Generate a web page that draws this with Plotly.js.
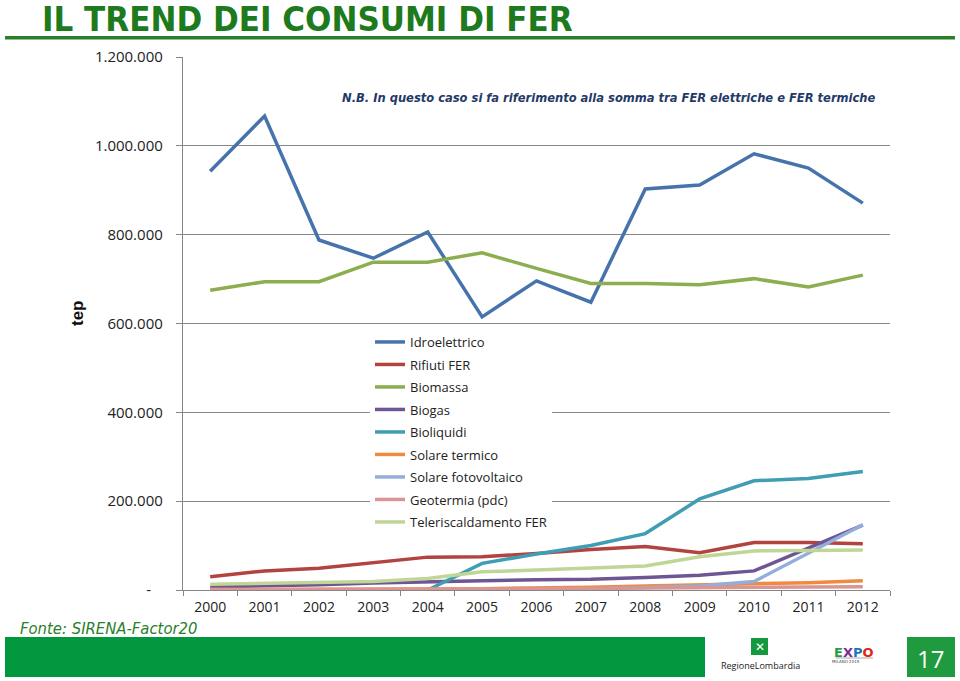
<!DOCTYPE html>
<html><head><meta charset="utf-8">
<script src="https://cdn.plot.ly/plotly-3.0.1.min.js"></script>
<style>html,body{margin:0;padding:0;background:#fff;overflow:hidden;} #chart{width:960px;height:681px;}</style>
</head><body><div id="chart"></div>
<script>
// ---- data ----
const years = ['2000','2001','2002','2003','2004','2005','2006','2007','2008','2009','2010','2011','2012'];
const seriesNames = ['Idroelettrico','Rifiuti FER','Biomassa','Biogas','Bioliquidi','Solare termico','Solare fotovoltaico','Geotermia (pdc)','Teleriscaldamento FER'];
const idroelettrico = [943000,1067000,788000,747000,806000,615000,696000,648000,903000,912000,982000,950000,871000];
const rifiuti = [30000,43000,49000,62000,74000,75000,82000,91000,98000,84000,107000,107000,104000];
const biomassa = [675000,694000,694000,738000,738000,759000,724000,690000,690000,687000,701000,682000,709000];
const biogas = [7000,9000,12000,16000,19000,21000,23000,24000,28000,33000,43000,95000,146000];
const bioliquidi = [null,null,null,null,0,60000,81000,100000,127000,205000,246000,251000,267000];
const solareTermico = [1000,1000,1500,2000,2500,3000,4000,6000,9000,11000,13500,16500,21000];
const fotovoltaico = [0,0,0,0,0,0,1000,2000,5000,9000,19000,83000,147000];
const geotermia = [1000,1000,1500,1500,2000,2000,3000,4000,5000,6000,6500,7000,7500];
const teleriscaldamento = [13000,15000,17000,19000,26000,41000,45000,49000,54000,75000,88000,89000,90000];
const yTickVals = [0,200000,400000,600000,800000,1000000,1200000];
const yTickText = ['-\u00a0\u00a0\u00a0','200.000','400.000','600.000','800.000','1.000.000','1.200.000'];

const seriesValues = [idroelettrico,rifiuti,biomassa,biogas,bioliquidi,solareTermico,fotovoltaico,geotermia,teleriscaldamento];
const seriesColors = ['#4673AC','#B3433F','#8DAE4F','#6E5594','#3F9DB4','#EF8A3E','#93AEDA','#D99694','#C0D697'];

// ---- pixel helpers for slide decoration ----
const L=183,R=890,T=57,B=590;
function px(x){return (x-L)/(R-L);}
function py(y){return (B-y)/(B-T);}

const traces = seriesValues.map((v,i)=>({
  type:'scatter', mode:'lines', x:years, y:v, name:seriesNames[i],
  legendgroup:'g'+i,
  line:{color:seriesColors[i], width:3.5}, connectgaps:false, hoverinfo:'skip'
}));

const narrow = '"Liberation Sans Narrow", "DejaVu Sans Condensed", "Open Sans", sans-serif';
const annotations = [
  {x:px(40),y:py(19),xref:'paper',yref:'paper',xanchor:'left',yanchor:'middle',showarrow:false,
   text:'<b>IL TREND DEI CONSUMI DI FER</b>',font:{family:narrow,size:34.5,color:'#1D7A1D'}},
  {x:px(878),y:py(97),xref:'paper',yref:'paper',xanchor:'right',yanchor:'middle',showarrow:false,
   text:'<b><i>N.B. In questo caso si fa riferimento alla somma tra FER elettriche e FER termiche</i></b>',
   font:{family:narrow,size:12.8,color:'#1F3A68'}},
  {x:px(77),y:py(313),xref:'paper',yref:'paper',xanchor:'center',yanchor:'middle',showarrow:false,textangle:-90,
   text:'<b>tep</b>',font:{family:'"Liberation Sans", sans-serif',size:17,color:'#111'}},
  {x:px(18),y:py(628),xref:'paper',yref:'paper',xanchor:'left',yanchor:'middle',showarrow:false,
   text:'<i>Fonte: SIRENA-Factor20</i>',font:{family:narrow,size:16.5,color:'#2A7F2A'}},
  {x:px(931),y:py(658),xref:'paper',yref:'paper',xanchor:'center',yanchor:'middle',showarrow:false,
   text:'17',font:{family:'"Open Sans", sans-serif',size:24,color:'#fff'}},
  {x:px(759.5),y:py(646.5),xref:'paper',yref:'paper',xanchor:'center',yanchor:'middle',showarrow:false,
   text:'<b>✕</b>',font:{family:'"DejaVu Sans", sans-serif',size:12,color:'#fff'}},
  {x:px(760),y:py(665),xref:'paper',yref:'paper',xanchor:'center',yanchor:'middle',showarrow:false,
   text:'RegioneLombardia',font:{family:'"Open Sans", sans-serif',size:9,color:'#222'}},
  {x:px(854),y:py(652),xref:'paper',yref:'paper',xanchor:'center',yanchor:'middle',showarrow:false,
   text:'<b><span style="color:#2E9A47">E</span><span style="color:#7B2C8F">X</span><span style="color:#1C75BC">P</span><span style="color:#E2231A">O</span></b>',
   font:{family:'"DejaVu Sans", sans-serif',size:13,color:'#333'}},
  {x:px(846),y:py(661),xref:'paper',yref:'paper',xanchor:'center',yanchor:'middle',showarrow:false,
   text:'MILANO 2015',font:{family:'"DejaVu Sans", sans-serif',size:4,color:'#444'}}
];
const shapes = [
  {type:'rect',xref:'paper',yref:'paper',x0:px(5),x1:px(955),y0:py(36),y1:py(39.5),fillcolor:'#2A7F2A',line:{width:0},layer:'above'},
  {type:'rect',xref:'paper',yref:'paper',x0:px(5),x1:px(705),y0:py(637),y1:py(677),fillcolor:'#00973F',line:{width:0}},
  {type:'rect',xref:'paper',yref:'paper',x0:px(907),x1:px(955),y0:py(637),y1:py(677),fillcolor:'#1F9A3E',line:{width:0}},
  {type:'rect',xref:'paper',yref:'paper',x0:px(751),x1:px(768),y0:py(638),y1:py(655),fillcolor:'#149A3C',line:{width:0}},
  {type:'line',xref:'paper',yref:'paper',x0:px(836),x1:px(873),y0:py(658),y1:py(658),line:{color:'#888',width:0.7}}
];

const layout = {
  width:960,height:681,
  margin:{l:L,r:960-R,t:T,b:681-B,pad:0},
  paper_bgcolor:'#fff',plot_bgcolor:'#fff',
  showlegend:true,
  legend:{x:px(370),y:py(327),xanchor:'left',yanchor:'top',bgcolor:'#fff',borderwidth:0,
    font:{family:'"Open Sans", sans-serif',size:13,color:'#222'},itemwidth:30,tracegroupgap:2.6,traceorder:'grouped'},
  xaxis:{type:'category',categoryorder:'array',categoryarray:years,range:[-0.5,12.5],tickson:'boundaries',
    ticks:'outside',ticklen:5,tickcolor:'#868686',showline:true,linecolor:'#868686',linewidth:1.2,
    ticklabelstandoff:4,
    showgrid:false,zeroline:false,tickfont:{family:'"Open Sans", sans-serif',size:14,color:'#222'},fixedrange:true},
  yaxis:{range:[0,1200000],tickvals:yTickVals,ticktext:yTickText,ticks:'outside',ticklen:6,tickcolor:'#868686',
    showline:true,linecolor:'#868686',linewidth:1.2,showgrid:true,gridcolor:'#878787',gridwidth:1,zeroline:false,
    ticklabelstandoff:10,tickfont:{family:'"Open Sans", sans-serif',size:15,color:'#222'},fixedrange:true},
  annotations:annotations,
  shapes:shapes
};
Plotly.newPlot('chart',traces,layout,{staticPlot:true,displayModeBar:false});
</script></body></html>
